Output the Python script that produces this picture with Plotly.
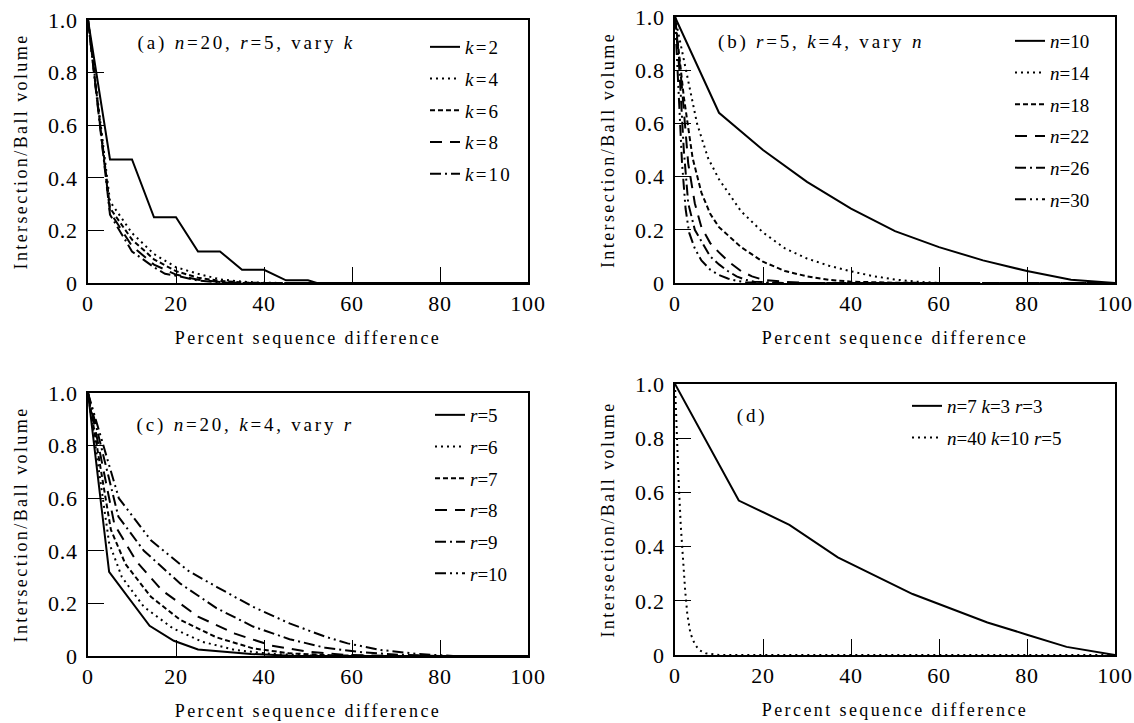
import plotly.graph_objects as go

# ---------------- data ----------------
# Panel (a): n=20, r=5, vary k
a_k2_x = [0, 5, 10, 15, 20, 25, 30, 35, 40, 45, 50, 52, 100]
a_k2_y = [1.0, 0.47, 0.47, 0.25, 0.25, 0.12, 0.12, 0.05, 0.05, 0.01, 0.01, 0.0, 0.0]
a_k4_x = [0, 5, 10, 15, 20, 25, 30, 35, 40, 45, 100]
a_k4_y = [1.0, 0.31, 0.19, 0.11, 0.06, 0.035, 0.014, 0.005, 0.001, 0.0, 0.0]
a_k6_x = [0, 5, 10, 15, 20, 25, 30, 35, 40, 100]
a_k6_y = [1.0, 0.285, 0.165, 0.09, 0.045, 0.02, 0.008, 0.002, 0.0, 0.0]
a_k8_x = [0, 5, 10, 15, 20, 25, 30, 35, 100]
a_k8_y = [1.0, 0.27, 0.14, 0.07, 0.032, 0.012, 0.004, 0.0, 0.0]
a_k10_x = [0, 5, 10, 15, 17.5, 20, 25, 30, 35, 100]
a_k10_y = [1.0, 0.26, 0.12, 0.06, 0.035, 0.028, 0.009, 0.002, 0.0, 0.0]

# Panel (b): r=5, k=4, vary n
b_n10_x = [0, 10, 20, 30, 40, 50, 60, 70, 80, 90, 100]
b_n10_y = [1.0, 0.64, 0.50, 0.38, 0.28, 0.195, 0.135, 0.085, 0.045, 0.012, 0.0]
b_n14_x = [0, 2.5, 5, 7.5, 10, 15, 20, 25, 30, 35, 40, 45, 50, 55, 60, 100]
b_n14_y = [1.0, 0.8, 0.6, 0.47, 0.39, 0.27, 0.19, 0.13, 0.092, 0.065, 0.044, 0.026, 0.013, 0.005, 0.0, 0.0]
b_n18_x = [0, 2, 4, 6, 8, 10, 15, 20, 25, 30, 35, 40, 50, 60, 100]
b_n18_y = [1.0, 0.7, 0.47, 0.34, 0.26, 0.21, 0.135, 0.08, 0.045, 0.025, 0.012, 0.005, 0.001, 0.0, 0.0]
b_n22_x = [0, 1.5, 3, 4.5, 6, 8, 10, 12.5, 15, 17.5, 20, 25, 30, 100]
b_n22_y = [1.0, 0.75, 0.45, 0.3, 0.21, 0.15, 0.115, 0.076, 0.045, 0.025, 0.012, 0.004, 0.0, 0.0]
b_n26_x = [0, 1, 2, 3, 4.5, 6.5, 8, 10, 12, 14, 16, 18, 22, 25, 100]
b_n26_y = [1.0, 0.8, 0.5, 0.3, 0.2, 0.14, 0.1, 0.07, 0.045, 0.025, 0.012, 0.005, 0.001, 0.0, 0.0]
b_n30_x = [0, 0.8, 1.6, 2.4, 3.2, 4.5, 6, 8, 10, 12, 14, 16, 20, 100]
b_n30_y = [1.0, 0.7, 0.45, 0.28, 0.19, 0.13, 0.085, 0.05, 0.03, 0.017, 0.008, 0.003, 0.0, 0.0]

# Panel (c): n=20, k=4, vary r
c_r5_x = [0, 4.8, 14, 19.5, 25, 37, 46, 50, 100]
c_r5_y = [1.0, 0.32, 0.115, 0.058, 0.025, 0.008, 0.001, 0.0, 0.0]
c_r6_x = [0, 4.8, 7.7, 12.7, 19.3, 26, 33.4, 41.6, 50, 60, 100]
c_r6_y = [1.0, 0.43, 0.3, 0.187, 0.105, 0.054, 0.023, 0.008, 0.002, 0.0, 0.0]
c_r7_x = [0, 5.2, 8.5, 14.3, 21, 29.2, 37.5, 45.8, 55, 65, 100]
c_r7_y = [1.0, 0.48, 0.35, 0.225, 0.137, 0.071, 0.029, 0.01, 0.003, 0.0, 0.0]
c_r8_x = [0, 6, 11, 16.8, 25, 33.4, 41.6, 50, 58, 70, 100]
c_r8_y = [1.0, 0.5, 0.36, 0.25, 0.15, 0.085, 0.04, 0.016, 0.005, 0.0, 0.0]
c_r9_x = [0, 6.9, 12.7, 21, 29.2, 37.5, 45.8, 54, 62.3, 70.6, 80, 100]
c_r9_y = [1.0, 0.53, 0.4, 0.275, 0.182, 0.112, 0.064, 0.031, 0.014, 0.005, 0.0, 0.0]
c_r10_x = [0, 7, 14.3, 22.6, 29.2, 37.5, 45.8, 54, 59, 66.5, 74.8, 83, 100]
c_r10_y = [1.0, 0.6, 0.44, 0.326, 0.263, 0.187, 0.124, 0.073, 0.048, 0.023, 0.008, 0.0, 0.0]

# Panel (d)
d_a_x = [0, 14.5, 26, 37, 54, 62, 71, 80, 89, 100]
d_a_y = [1.0, 0.57, 0.48, 0.36, 0.225, 0.175, 0.12, 0.075, 0.03, 0.0]
d_b_x = [0, 0.3, 0.8, 1.3, 1.8, 2.3, 2.8, 3.5, 4.5, 5.5, 7, 9, 10, 100]
d_b_y = [1.0, 0.85, 0.65, 0.48, 0.35, 0.24, 0.15, 0.08, 0.04, 0.018, 0.006, 0.001, 0.0, 0.0]

x_tickvals = [0, 20, 40, 60, 80, 100]
x_ticktext = ["0", "20", "40", "60", "80", "100"]
y_tickvals = [0, 0.2, 0.4, 0.6, 0.8, 1.0]
y_ticktext = ["0", "0.2", "0.4", "0.6", "0.8", "1.0"]

x_title = "Percent sequence difference"
y_title = "Intersection/Ball volume"

# ---------------- styles ----------------
W, H = 1134, 723
FONT = "Liberation Serif"
DOT = "2px,4px"
SDASH = "5px,3px"
LDASH = "12px,8px"
DASHDOT = "11px,4px,2px,4px"
DASHDOTDOT = "11px,4px,2px,4px,2px,4px"

panels = {
    "a": dict(xdom=(88, 528), ydom=(20, 283)),
    "b": dict(xdom=(675, 1115), ydom=(17, 283)),
    "c": dict(xdom=(88, 528), ydom=(393, 656)),
    "d": dict(xdom=(675, 1115), ydom=(384, 655)),
}

series = [
    ("a", a_k2_x, a_k2_y, "<i>k</i>=2", "solid"),
    ("a", a_k4_x, a_k4_y, "<i>k</i>=4", DOT),
    ("a", a_k6_x, a_k6_y, "<i>k</i>=6", SDASH),
    ("a", a_k8_x, a_k8_y, "<i>k</i>=8", LDASH),
    ("a", a_k10_x, a_k10_y, "<i>k</i>=10", DASHDOT),
    ("b", b_n10_x, b_n10_y, "<i>n</i>=10", "solid"),
    ("b", b_n14_x, b_n14_y, "<i>n</i>=14", DOT),
    ("b", b_n18_x, b_n18_y, "<i>n</i>=18", SDASH),
    ("b", b_n22_x, b_n22_y, "<i>n</i>=22", LDASH),
    ("b", b_n26_x, b_n26_y, "<i>n</i>=26", DASHDOT),
    ("b", b_n30_x, b_n30_y, "<i>n</i>=30", DASHDOTDOT),
    ("c", c_r5_x, c_r5_y, "<i>r</i>=5", "solid"),
    ("c", c_r6_x, c_r6_y, "<i>r</i>=6", DOT),
    ("c", c_r7_x, c_r7_y, "<i>r</i>=7", SDASH),
    ("c", c_r8_x, c_r8_y, "<i>r</i>=8", LDASH),
    ("c", c_r9_x, c_r9_y, "<i>r</i>=9", DASHDOT),
    ("c", c_r10_x, c_r10_y, "<i>r</i>=10", DASHDOTDOT),
    ("d", d_a_x, d_a_y, "<i>n</i>=7 <i>k</i>=3 <i>r</i>=3", "solid"),
    ("d", d_b_x, d_b_y, "<i>n</i>=40 <i>k</i>=10 <i>r</i>=5", DOT),
]

axis_ids = {"a": ("x", "y", "legend"), "b": ("x2", "y2", "legend2"),
            "c": ("x3", "y3", "legend3"), "d": ("x4", "y4", "legend4")}

fig = go.Figure()
for i, (p, xs, ys, name, dash) in enumerate(series):
    xa, ya, lg = axis_ids[p]
    fig.add_trace(go.Scatter(
        x=xs, y=ys, mode="lines", name=name,
        line=dict(color="black", width=2, dash=dash),
        xaxis=xa, yaxis=ya, legend=lg, legendgroup=f"g{i}",
    ))

layout = dict(
    width=W, height=H, margin=dict(l=0, r=0, t=0, b=0),
    paper_bgcolor="white", plot_bgcolor="white",
    font=dict(family=FONT, size=18, color="black"),
    showlegend=True,
)

for idx, key in enumerate(["a", "b", "c", "d"]):
    sfx = "" if idx == 0 else str(idx + 1)
    pd_ = panels[key]
    x0, x1 = pd_["xdom"]
    y0, y1 = pd_["ydom"]
    common = dict(
        showline=True, linecolor="black", linewidth=1.5, mirror=True,
        ticks="inside", ticklen=16, tickwidth=1, tickcolor="black",
        showgrid=False, zeroline=False, automargin=False,
        tickfont=dict(family=FONT, size=22, color="black"),
    )
    layout["xaxis" + sfx] = dict(
        common, domain=[x0 / W, x1 / W], range=[0, 100],
        anchor="y" + sfx, tickvals=x_tickvals, ticktext=x_ticktext,
        title=dict(text=x_title, font=dict(family=FONT, size=18), standoff=16),
    )
    layout["yaxis" + sfx] = dict(
        common, domain=[1 - y1 / H, 1 - y0 / H], range=[0, 1],
        anchor="x" + sfx, tickvals=y_tickvals, ticktext=y_ticktext,
        ticklabelstandoff=4,
        title=dict(text=y_title, font=dict(family=FONT, size=18), standoff=18),
    )

legend_pos = {"a": (425, 28), "b": (1010, 22), "c": (430, 396), "d": (907, 387)}
for idx, key in enumerate(["a", "b", "c", "d"]):
    lx, ly = legend_pos[key]
    layout["legend" if idx == 0 else f"legend{idx + 1}"] = dict(
        x=lx / W, y=1 - ly / H, xanchor="left", yanchor="top",
        bgcolor="rgba(0,0,0,0)", borderwidth=0,
        font=dict(family=FONT, size=19, color="black"),
        tracegroupgap=4, itemwidth=30,
    )

fig.update_layout(**layout)

# annotation centres (text is centred inside the annotation box)
ann = [
    (246, 43, "(a) <i>n</i>=20, <i>r</i>=5, vary <i>k</i>"),
    (821, 42, "(b) <i>r</i>=5, <i>k</i>=4, vary <i>n</i>"),
    (245, 425, "(c) <i>n</i>=20, <i>k</i>=4, vary <i>r</i>"),
    (752, 416, "(d)"),
]
for ax_, ay_, t in ann:
    fig.add_annotation(x=ax_ / W, y=1 - ay_ / H, xref="paper", yref="paper",
                       text=t, showarrow=False, xanchor="center", yanchor="middle",
                       font=dict(family=FONT, size=19, color="black"))

post = """
document.body.style.margin = '0';
document.body.style.padding = '0';
var st = document.createElement('style');
st.innerHTML = 'html,body{margin:0;padding:0;overflow:hidden;} g.scrollbox{clip-path:none !important;} text[class$="title"]{letter-spacing:2.4px;} .annotation-text{letter-spacing:2.8px;} .legendtext{letter-spacing:2.2px;} g[class*="tick"] > text{letter-spacing:0.8px;}';
document.head.appendChild(st);
"""

fig.write_html("out.html", post_script=post, config={"displayModeBar": False})
